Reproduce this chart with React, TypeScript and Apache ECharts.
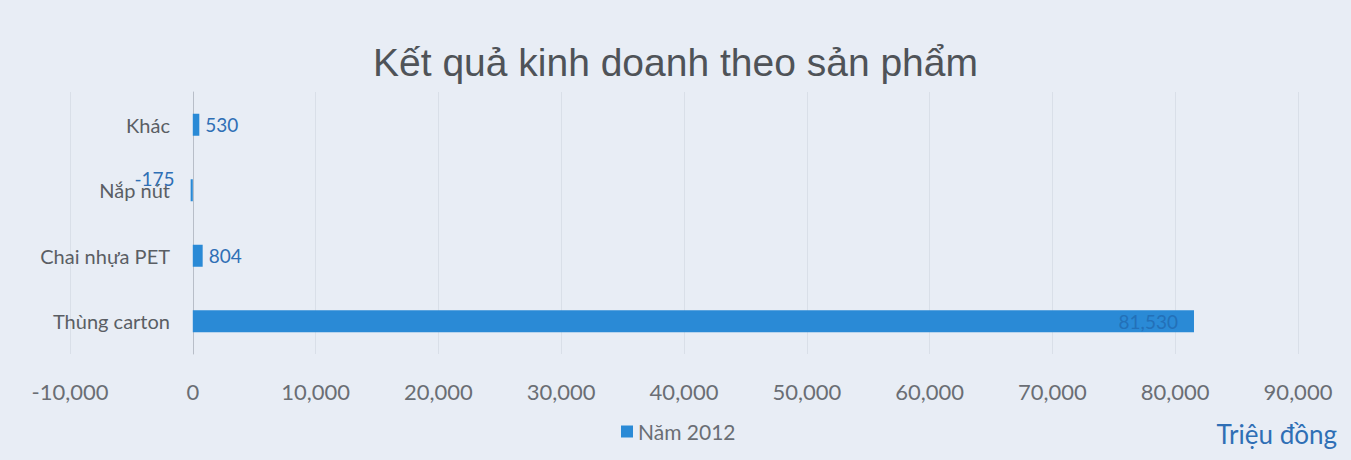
import React, { useEffect, useRef } from "react";
import * as echarts from "echarts";

const categories = ["Thùng carton", "Chai nhựa PET", "Nắp nút", "Khác"];
const values2012 = [81530, 804, -175, 530];
const xTicks = [-10000, 90000, 10000];

const FONT = "Lato, 'Open Sans', sans-serif";

export default function App() {
  const ref = useRef<HTMLDivElement>(null);
  useEffect(() => {
    if (!ref.current) return;
    const chart = echarts.init(ref.current, null, { renderer: "svg" });
    chart.setOption({
      animation: false,
      backgroundColor: "#e8edf5",
      title: {
        text: "Kết quả kinh doanh theo sản phẩm",
        left: "center",
        top: 38,
        textStyle: { fontFamily: "Liberation Sans", fontSize: 39, fontWeight: "normal", color: "#4f5358" },
      },
      grid: { left: 70, right: 53, top: 92, bottom: 106, containLabel: false, outerBoundsMode: "none" },
      xAxis: {
        type: "value",
        min: xTicks[0],
        max: xTicks[1],
        interval: xTicks[2],
        axisLine: { show: false },
        axisTick: { show: false },
        splitLine: { show: true, lineStyle: { color: "#d9dfe8", width: 1 } },
        axisLabel: {
          margin: 26,
          fontFamily: FONT,
          fontSize: 22,
          color: "#6a6e74",
          formatter: (v: number) => v.toLocaleString("en-US"),
        },
      },
      yAxis: {
        type: "category",
        data: categories,
        axisLine: { show: true, onZero: true, lineStyle: { color: "#b8bec8" } },
        axisTick: { show: false },
        axisLabel: { fontFamily: FONT, fontSize: 20, color: "#5a5e64", margin: -100, align: "right" },
      },
      legend: {
        bottom: 13,
        left: 616,
        icon: "rect",
        itemWidth: 12,
        itemHeight: 12,
        itemGap: 6,
        textStyle: { fontFamily: FONT, fontSize: 21, color: "#6a6e74" },
      },
      graphic: [
        {
          type: "text",
          right: 14,
          bottom: 13,
          style: { text: "Triệu đồng", fontFamily: FONT, fontSize: 26, fill: "#2f6fb5" },
        },
      ],
      series: [
        {
          name: "Năm 2012",
          type: "bar",
          barWidth: 22,
          itemStyle: { color: "#2a8ad6" },
          data: values2012.map((v, i) => {
            if (v < 0) {
              return {
                value: v,
                label: { show: true, position: "left", offset: [-10, -12] },
              };
            }
            if (i === 0) {
              return {
                value: v,
                label: { show: true, position: "insideRight", color: "#2370b8", offset: [-10, 0] },
              };
            }
            return { value: v };
          }),
          label: {
            show: true,
            position: "right",
            distance: 6,
            fontFamily: FONT,
            fontSize: 19,
            color: "#2f6fb5",
            formatter: (p: any) => Number(p.value).toLocaleString("en-US"),
          },
        },
      ],
    });
    return () => chart.dispose();
  }, []);
  return (
    <div
      ref={ref}
      style={{ position: "fixed", left: 0, top: 0, width: 1351, height: 460, border: "none" }}
    />
  );
}
